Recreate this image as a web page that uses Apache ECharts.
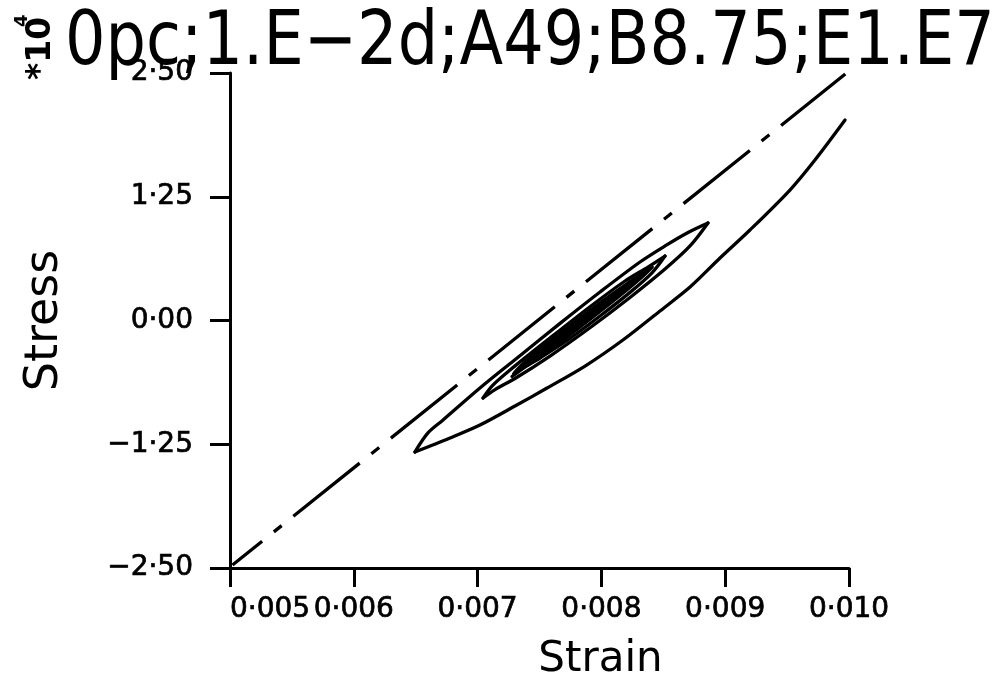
<!DOCTYPE html>
<html>
<head>
<meta charset="utf-8">
<script src="https://cdn.jsdelivr.net/npm/echarts@6/dist/echarts.min.js"></script>
<style>
  html, body { margin: 0; padding: 0; background: #fff; }
  #chart { width: 1004px; height: 684px; }
</style>
</head>
<body>
<div id="chart"></div>
<script>
// Run header and the stress scale marker
const titleText = '0pc;1.E\u22122d;A49;B8.75;E1.E7';
const scaleMarker = '*10';
const scaleExponent = '4';

// Axis names
const strainName = 'Strain';
const stressName = 'Stress';

// Axis ranges: [min, max, step]; stress is in units of 10^4
const strainRange = [0.005, 0.010, 0.001];
const stressRange = [-2.5, 2.5, 1.25];

// Elastic reference line (E = 1.E7)
const elasticLine = [[0.00502, -2.47], [0.00997, 2.49]];

// Hysteresis path, branch by branch: [strain, stress]
const unload1 = [
  [0.009968, 2.025], [0.009725, 1.621], [0.009523, 1.318], [0.0092, 0.914],
  [0.008958, 0.631], [0.008716, 0.338], [0.008473, 0.096], [0.008174, -0.197],
  [0.007868, -0.460], [0.007561, -0.682], [0.007302, -0.864], [0.007019, -1.056],
  [0.006777, -1.187], [0.006494, -1.328]
];
const reload1 = [
  [0.006494, -1.328], [0.006599, -1.136], [0.006721, -1.005], [0.007019, -0.682],
  [0.007342, -0.356], [0.007666, -0.029], [0.007989, 0.288], [0.008312, 0.591],
  [0.008514, 0.753], [0.0087, 0.889], [0.008861, 0.985]
];
const unload2 = [
  [0.008861, 0.985], [0.008716, 0.753], [0.008514, 0.520], [0.008231, 0.233],
  [0.007908, -0.073], [0.007585, -0.359], [0.007302, -0.586], [0.007141, -0.698],
  [0.007044, -0.783]
];
const reload2 = [
  [0.007044, -0.783], [0.007116, -0.662], [0.007262, -0.500], [0.007585, -0.177],
  [0.007908, 0.139], [0.008191, 0.399], [0.008376, 0.540], [0.008514, 0.651]
];
const unload3 = [
  [0.008514, 0.651], [0.008409, 0.482], [0.008231, 0.284], [0.007989, 0.045],
  [0.007746, -0.181], [0.007504, -0.379], [0.007359, -0.490], [0.007278, -0.566]
];

// Outline of the densely packed later cycles around the settled point
const coreOutline = [
  [0.007286, -0.540], [0.007383, -0.410], [0.007544, -0.240], [0.007746, -0.045],
  [0.007989, 0.186], [0.008191, 0.366], [0.008336, 0.486], [0.008417, 0.540],
  [0.008336, 0.440], [0.008191, 0.286], [0.007989, 0.084], [0.007746, -0.152],
  [0.007544, -0.338], [0.007383, -0.474]
];

const branches = [unload1, reload1, unload2, reload2, unload3];

const INK = '#000';
const labelFont = 'DejaVu Sans';

function dotted(v, digits) {
  return v.toFixed(digits).replace('.', '\u00b7').replace('-', '\u2212');
}

const chart = echarts.init(document.getElementById('chart'), null, { renderer: 'canvas' });

const branchSeries = branches.map((pts, i) => ({
  name: 'branch' + (i + 1), type: 'line', data: pts, showSymbol: false,
  smooth: 0.3, silent: true,
  lineStyle: { color: INK, width: 3.3, join: 'round', cap: 'round' }
}));

const tickLabelStyle = {
  color: INK, fontFamily: labelFont, fontSize: 28,
  textBorderColor: INK, textBorderWidth: 0.7,
  showMinLabel: true, showMaxLabel: true, hideOverlap: false
};

chart.setOption({
  backgroundColor: '#fff',
  animation: false,
  grid: { left: 230, top: 73, right: 155, bottom: 116, outerBoundsMode: 'none', containLabel: false },
  xAxis: {
    type: 'value',
    min: strainRange[0], max: strainRange[1], interval: strainRange[2],
    name: strainName, nameLocation: 'middle', nameGap: 71,
    nameTextStyle: { fontFamily: labelFont, fontSize: 42, color: INK, padding: [0, 0, 0, 122] },
    axisLine: { onZero: false, lineStyle: { color: INK, width: 3 } },
    axisTick: { inside: false, length: 19, lineStyle: { color: INK, width: 3 } },
    axisLabel: Object.assign({
      margin: 28, alignMinLabel: 'left',
      formatter: v => dotted(v, 3)
    }, tickLabelStyle),
    splitLine: { show: false }
  },
  yAxis: {
    type: 'value',
    min: stressRange[0], max: stressRange[1], interval: stressRange[2],
    name: stressName, nameLocation: 'middle', nameGap: 162, nameRotate: 90,
    nameTextStyle: { fontFamily: labelFont, fontSize: 46, color: INK },
    axisLine: { onZero: false, lineStyle: { color: INK, width: 3 } },
    axisTick: { inside: false, length: 20, lineStyle: { color: INK, width: 3 } },
    axisLabel: Object.assign({
      margin: 37,
      formatter: v => dotted(v, 2)
    }, tickLabelStyle),
    splitLine: { show: false }
  },
  graphic: [
    {
      type: 'text', x: 65, y: 45, scaleX: 0.85,
      style: {
        text: titleText, font: '75px "DejaVu Sans"', fill: INK,
        textAlign: 'left', textVerticalAlign: 'middle'
      }
    },
    {
      type: 'text', x: 41, y: 80, rotation: Math.PI / 2,
      style: {
        text: scaleMarker, font: 'bold 33px "DejaVu Sans"', fill: INK,
        textAlign: 'left', textVerticalAlign: 'middle'
      }
    },
    {
      type: 'text', x: 22, y: 27, rotation: Math.PI / 2,
      style: {
        text: scaleExponent, font: 'bold 18px "DejaVu Sans"', fill: INK,
        textAlign: 'left', textVerticalAlign: 'middle'
      }
    }
  ],
  series: [
    {
      name: 'elastic', type: 'line', data: elasticLine, showSymbol: false, silent: true,
      lineStyle: { color: INK, width: 3.3, type: [85, 15, 10, 15], dashOffset: 47, cap: 'butt' }
    }
  ].concat(branchSeries, [
    {
      name: 'core', type: 'custom', data: [[0.00785, 0]], silent: true,
      renderItem: function (params, api) {
        const pts = coreOutline.map(p => api.coord(p));
        return {
          type: 'polygon',
          shape: { points: pts, smooth: 0.3 },
          style: { fill: INK, stroke: INK, lineWidth: 2, lineJoin: 'round' }
        };
      }
    }
  ])
});
</script>
</body>
</html>
